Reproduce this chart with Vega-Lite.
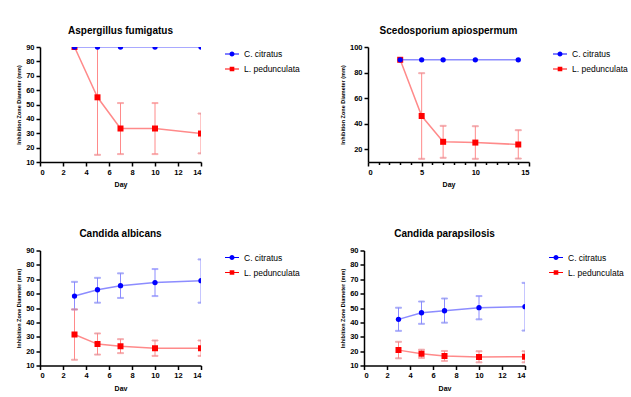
{
  "$schema": "https://vega.github.io/schema/vega-lite/v6.json",
  "padding": {"left": 16, "top": 25, "right": 0, "bottom": 0},
  "background": "white",
  "datasets": {
    "d": [
      {"panel": "A", "series": "L. pedunculata", "day": 3, "mean": 90, "lo": null, "hi": null},
      {"panel": "A", "series": "L. pedunculata", "day": 5, "mean": 55, "lo": 15, "hi": 95},
      {"panel": "A", "series": "L. pedunculata", "day": 7, "mean": 33.3, "lo": 15.5, "hi": 51},
      {"panel": "A", "series": "L. pedunculata", "day": 10, "mean": 33.3, "lo": 15.5, "hi": 51},
      {"panel": "A", "series": "L. pedunculata", "day": 14, "mean": 29.8, "lo": 16, "hi": 43.7},
      {"panel": "A", "series": "C. citratus", "day": 3, "mean": 90, "lo": null, "hi": null},
      {"panel": "A", "series": "C. citratus", "day": 5, "mean": 90, "lo": null, "hi": null},
      {"panel": "A", "series": "C. citratus", "day": 7, "mean": 90, "lo": null, "hi": null},
      {"panel": "A", "series": "C. citratus", "day": 10, "mean": 90, "lo": null, "hi": null},
      {"panel": "A", "series": "C. citratus", "day": 14, "mean": 90, "lo": null, "hi": null},
      {"panel": "S", "series": "L. pedunculata", "day": 3, "mean": 90, "lo": null, "hi": null},
      {"panel": "S", "series": "L. pedunculata", "day": 5, "mean": 46, "lo": 12.5, "hi": 79.5},
      {"panel": "S", "series": "L. pedunculata", "day": 7, "mean": 25.8, "lo": 13.3, "hi": 38.3},
      {"panel": "S", "series": "L. pedunculata", "day": 10, "mean": 25.2, "lo": 12.5, "hi": 38},
      {"panel": "S", "series": "L. pedunculata", "day": 14, "mean": 23.7, "lo": 12.7, "hi": 34.9},
      {"panel": "S", "series": "C. citratus", "day": 3, "mean": 90, "lo": null, "hi": null},
      {"panel": "S", "series": "C. citratus", "day": 5, "mean": 90, "lo": null, "hi": null},
      {"panel": "S", "series": "C. citratus", "day": 7, "mean": 90, "lo": null, "hi": null},
      {"panel": "S", "series": "C. citratus", "day": 10, "mean": 90, "lo": null, "hi": null},
      {"panel": "S", "series": "C. citratus", "day": 14, "mean": 90, "lo": null, "hi": null},
      {"panel": "CA", "series": "L. pedunculata", "day": 3, "mean": 31.6, "lo": 14, "hi": 49},
      {"panel": "CA", "series": "L. pedunculata", "day": 5, "mean": 24.9, "lo": 17.6, "hi": 32.3},
      {"panel": "CA", "series": "L. pedunculata", "day": 7, "mean": 23.4, "lo": 18.6, "hi": 28.3},
      {"panel": "CA", "series": "L. pedunculata", "day": 10, "mean": 22, "lo": 16.7, "hi": 27.4},
      {"panel": "CA", "series": "L. pedunculata", "day": 14, "mean": 22, "lo": 16.7, "hi": 27.4},
      {"panel": "CA", "series": "C. citratus", "day": 3, "mean": 58.3, "lo": 49, "hi": 68.2},
      {"panel": "CA", "series": "C. citratus", "day": 5, "mean": 62.7, "lo": 53.7, "hi": 71},
      {"panel": "CA", "series": "C. citratus", "day": 7, "mean": 65.5, "lo": 57, "hi": 74.1},
      {"panel": "CA", "series": "C. citratus", "day": 10, "mean": 67.7, "lo": 58.3, "hi": 77.1},
      {"panel": "CA", "series": "C. citratus", "day": 14, "mean": 69, "lo": 53.7, "hi": 83.8},
      {"panel": "CP", "series": "L. pedunculata", "day": 3, "mean": 20.7, "lo": 15, "hi": 26.5},
      {"panel": "CP", "series": "L. pedunculata", "day": 5, "mean": 18.2, "lo": 15.3, "hi": 21},
      {"panel": "CP", "series": "L. pedunculata", "day": 7, "mean": 16.6, "lo": 13.2, "hi": 20.1},
      {"panel": "CP", "series": "L. pedunculata", "day": 10, "mean": 16, "lo": 12.2, "hi": 19.9},
      {"panel": "CP", "series": "L. pedunculata", "day": 14, "mean": 16.1, "lo": 12.2, "hi": 19.9},
      {"panel": "CP", "series": "C. citratus", "day": 3, "mean": 42.1, "lo": 34.1, "hi": 50.2},
      {"panel": "CP", "series": "C. citratus", "day": 5, "mean": 46.7, "lo": 39, "hi": 54.5},
      {"panel": "CP", "series": "C. citratus", "day": 7, "mean": 48.1, "lo": 39.8, "hi": 56.6},
      {"panel": "CP", "series": "C. citratus", "day": 10, "mean": 50.2, "lo": 42.1, "hi": 58.3},
      {"panel": "CP", "series": "C. citratus", "day": 14, "mean": 50.9, "lo": 34.3, "hi": 67.5}
    ]
  },
  "vconcat": [
    {
      "spacing": 40,
      "resolve": {"legend": {"fill": "independent", "shape": "independent"}},
      "hconcat": [
        {
          "title": "Aspergillus fumigatus",
          "width": 161, "height": 115,
          "data": {"name": "d"},
          "transform": [{"filter": "datum.panel === 'A'"}],
          "encoding": {
            "x": {"field": "day", "type": "quantitative", "scale": {"domain": [0, 14], "nice": false}, "axis": {"values": [0, 2, 4, 6, 8, 10, 12, 14], "title": "Day"}}
          },
          "layer": [
            {"transform": [{"filter": "datum.lo != null"}], "mark": {"type": "rule", "strokeWidth": 1, "clip": true},
             "encoding": {"y": {"field": "lo", "type": "quantitative", "scale": {"domain": [10, 90], "nice": false}, "axis": {"values": [10, 20, 30, 40, 50, 60, 70, 80, 90], "title": "Inhibition Zone Diameter (mm)"}}, "y2": {"field": "hi"},
              "stroke": {"field": "series", "type": "nominal", "scale": {"domain": ["C. citratus", "L. pedunculata"], "range": ["#8c8cff", "#ff8a8a"]}, "legend": null}}},
            {"transform": [{"filter": "datum.lo != null"}], "mark": {"type": "tick", "orient": "horizontal", "size": 6, "thickness": 1, "clip": true},
             "encoding": {"y": {"field": "lo", "type": "quantitative", "axis": {"values": [10, 20, 30, 40, 50, 60, 70, 80, 90], "title": "Inhibition Zone Diameter (mm)"}}, "stroke": {"field": "series", "type": "nominal", "legend": null}}},
            {"transform": [{"filter": "datum.lo != null"}], "mark": {"type": "tick", "orient": "horizontal", "size": 6, "thickness": 1, "clip": true},
             "encoding": {"y": {"field": "hi", "type": "quantitative", "axis": {"values": [10, 20, 30, 40, 50, 60, 70, 80, 90], "title": "Inhibition Zone Diameter (mm)"}}, "stroke": {"field": "series", "type": "nominal", "legend": null}}},
            {"mark": {"type": "line", "strokeWidth": 1.5, "clip": true},
             "encoding": {"y": {"field": "mean", "type": "quantitative", "axis": {"values": [10, 20, 30, 40, 50, 60, 70, 80, 90], "title": "Inhibition Zone Diameter (mm)"}}, "stroke": {"field": "series", "type": "nominal", "legend": null}}},
            {"transform": [{"filter": "datum.series === 'L. pedunculata'"}], "mark": {"type": "point", "shape": "square", "filled": true, "size": 36, "color": "#ff0000", "opacity": 1, "clip": true},
             "encoding": {"y": {"field": "mean", "type": "quantitative", "axis": {"values": [10, 20, 30, 40, 50, 60, 70, 80, 90], "title": "Inhibition Zone Diameter (mm)"}}}},
            {"transform": [{"filter": "datum.series === 'C. citratus'"}], "mark": {"type": "point", "shape": "circle", "filled": true, "size": 28, "color": "#0000ff", "opacity": 1, "clip": true},
             "encoding": {"y": {"field": "mean", "type": "quantitative", "axis": {"values": [10, 20, 30, 40, 50, 60, 70, 80, 90], "title": "Inhibition Zone Diameter (mm)"}}}},
            {"mark": {"type": "point", "filled": true, "opacity": 0, "clip": true},
             "encoding": {"y": {"field": "mean", "type": "quantitative", "axis": {"values": [10, 20, 30, 40, 50, 60, 70, 80, 90], "title": "Inhibition Zone Diameter (mm)"}},
              "fill": {"field": "series", "type": "nominal", "scale": {"domain": ["C. citratus", "L. pedunculata"], "range": ["#0000ff", "#ff0000"]}, "legend": {"title": null, "symbolOpacity": 1}},
              "shape": {"field": "series", "type": "nominal", "scale": {"domain": ["C. citratus", "L. pedunculata"], "range": ["M-1,-0.06H1V0.06H-1Z M0.36,0A0.36,0.36 0 1,1 -0.36,0A0.36,0.36 0 1,1 0.36,0Z", "M-1,-0.06H1V0.06H-1Z M-0.33,-0.33H0.33V0.33H-0.33Z"]}, "legend": {"title": null, "symbolOpacity": 1}}}}
          ]
        },
        {
          "title": "Scedosporium apiospermum",
          "width": 161, "height": 115,
          "data": {"name": "d"},
          "transform": [{"filter": "datum.panel === 'S'"}],
          "encoding": {
            "x": {"field": "day", "type": "quantitative", "scale": {"domain": [0, 15], "nice": false}, "axis": {"values": [0, 1, 2, 3, 4, 5, 6, 7, 8, 9, 10, 11, 12, 13, 14, 15], "labelExpr": "datum.value % 5 === 0 ? datum.label : ''", "tickSize": {"condition": {"test": "datum.value % 5 === 0", "value": 4}, "value": 2.5}, "title": "Day"}}
          },
          "layer": [
            {"transform": [{"filter": "datum.lo != null"}], "mark": {"type": "rule", "strokeWidth": 1, "clip": true},
             "encoding": {
              "y": {"field": "lo", "type": "quantitative", "scale": {"domain": [10, 100], "nice": false}, "axis": {"values": [20, 40, 60, 80, 100], "title": "Inhibition Zone Diameter (mm)"}}, "y2": {"field": "hi"},
              "stroke": {"field": "series", "type": "nominal", "scale": {"domain": ["C. citratus", "L. pedunculata"], "range": ["#8c8cff", "#ff8a8a"]}, "legend": null}}},
            {"transform": [{"filter": "datum.lo != null"}], "mark": {"type": "tick", "orient": "horizontal", "size": 6, "thickness": 1, "clip": true},
             "encoding": {"y": {"field": "lo", "type": "quantitative", "axis": {"values": [20, 40, 60, 80, 100], "title": "Inhibition Zone Diameter (mm)"}}, "stroke": {"field": "series", "type": "nominal", "legend": null}}},
            {"transform": [{"filter": "datum.lo != null"}], "mark": {"type": "tick", "orient": "horizontal", "size": 6, "thickness": 1, "clip": true},
             "encoding": {"y": {"field": "hi", "type": "quantitative", "axis": {"values": [20, 40, 60, 80, 100], "title": "Inhibition Zone Diameter (mm)"}}, "stroke": {"field": "series", "type": "nominal", "legend": null}}},
            {"mark": {"type": "line", "strokeWidth": 1.5, "clip": true},
             "encoding": {"y": {"field": "mean", "type": "quantitative", "axis": {"values": [20, 40, 60, 80, 100], "title": "Inhibition Zone Diameter (mm)"}}, "stroke": {"field": "series", "type": "nominal", "legend": null}}},
            {"transform": [{"filter": "datum.series === 'L. pedunculata'"}], "mark": {"type": "point", "shape": "square", "filled": true, "size": 36, "color": "#ff0000", "opacity": 1, "clip": true},
             "encoding": {"y": {"field": "mean", "type": "quantitative", "axis": {"values": [20, 40, 60, 80, 100], "title": "Inhibition Zone Diameter (mm)"}}}},
            {"transform": [{"filter": "datum.series === 'C. citratus'"}], "mark": {"type": "point", "shape": "circle", "filled": true, "size": 28, "color": "#0000ff", "opacity": 1, "clip": true},
             "encoding": {"y": {"field": "mean", "type": "quantitative", "axis": {"values": [20, 40, 60, 80, 100], "title": "Inhibition Zone Diameter (mm)"}}}},
            {"mark": {"type": "point", "filled": true, "opacity": 0, "clip": true},
             "encoding": {"y": {"field": "mean", "type": "quantitative", "axis": {"values": [20, 40, 60, 80, 100], "title": "Inhibition Zone Diameter (mm)"}},
              "fill": {"field": "series", "type": "nominal", "scale": {"domain": ["C. citratus", "L. pedunculata"], "range": ["#0000ff", "#ff0000"]}, "legend": {"title": null, "symbolOpacity": 1}},
              "shape": {"field": "series", "type": "nominal", "scale": {"domain": ["C. citratus", "L. pedunculata"], "range": ["M-1,-0.06H1V0.06H-1Z M0.36,0A0.36,0.36 0 1,1 -0.36,0A0.36,0.36 0 1,1 0.36,0Z", "M-1,-0.06H1V0.06H-1Z M-0.33,-0.33H0.33V0.33H-0.33Z"]}, "legend": {"title": null, "symbolOpacity": 1}}}}
          ]
        }
      ]
    },
    {
      "spacing": 40,
      "resolve": {"legend": {"fill": "independent", "shape": "independent"}},
      "hconcat": [
        {
          "title": "Candida albicans",
          "width": 161, "height": 115,
          "data": {"name": "d"},
          "transform": [{"filter": "datum.panel === 'CA'"}],
          "encoding": {
            "x": {"field": "day", "type": "quantitative", "scale": {"domain": [0, 14], "nice": false}, "axis": {"values": [0, 2, 4, 6, 8, 10, 12, 14], "title": "Day"}}
          },
          "layer": [
            {"transform": [{"filter": "datum.lo != null"}], "mark": {"type": "rule", "strokeWidth": 1, "clip": true},
             "encoding": {"y": {"field": "lo", "type": "quantitative", "scale": {"domain": [10, 90], "nice": false}, "axis": {"values": [10, 20, 30, 40, 50, 60, 70, 80, 90], "title": "Inhibition Zone Diameter (mm)"}}, "y2": {"field": "hi"},
              "stroke": {"field": "series", "type": "nominal", "scale": {"domain": ["C. citratus", "L. pedunculata"], "range": ["#8c8cff", "#ff8a8a"]}, "legend": null}}},
            {"transform": [{"filter": "datum.lo != null"}], "mark": {"type": "tick", "orient": "horizontal", "size": 6, "thickness": 1, "clip": true},
             "encoding": {"y": {"field": "lo", "type": "quantitative", "axis": {"values": [10, 20, 30, 40, 50, 60, 70, 80, 90], "title": "Inhibition Zone Diameter (mm)"}}, "stroke": {"field": "series", "type": "nominal", "legend": null}}},
            {"transform": [{"filter": "datum.lo != null"}], "mark": {"type": "tick", "orient": "horizontal", "size": 6, "thickness": 1, "clip": true},
             "encoding": {"y": {"field": "hi", "type": "quantitative", "axis": {"values": [10, 20, 30, 40, 50, 60, 70, 80, 90], "title": "Inhibition Zone Diameter (mm)"}}, "stroke": {"field": "series", "type": "nominal", "legend": null}}},
            {"mark": {"type": "line", "strokeWidth": 1.5, "clip": true},
             "encoding": {"y": {"field": "mean", "type": "quantitative", "axis": {"values": [10, 20, 30, 40, 50, 60, 70, 80, 90], "title": "Inhibition Zone Diameter (mm)"}}, "stroke": {"field": "series", "type": "nominal", "legend": null}}},
            {"transform": [{"filter": "datum.series === 'L. pedunculata'"}], "mark": {"type": "point", "shape": "square", "filled": true, "size": 36, "color": "#ff0000", "opacity": 1, "clip": true},
             "encoding": {"y": {"field": "mean", "type": "quantitative", "axis": {"values": [10, 20, 30, 40, 50, 60, 70, 80, 90], "title": "Inhibition Zone Diameter (mm)"}}}},
            {"transform": [{"filter": "datum.series === 'C. citratus'"}], "mark": {"type": "point", "shape": "circle", "filled": true, "size": 28, "color": "#0000ff", "opacity": 1, "clip": true},
             "encoding": {"y": {"field": "mean", "type": "quantitative", "axis": {"values": [10, 20, 30, 40, 50, 60, 70, 80, 90], "title": "Inhibition Zone Diameter (mm)"}}}},
            {"mark": {"type": "point", "filled": true, "opacity": 0, "clip": true},
             "encoding": {"y": {"field": "mean", "type": "quantitative", "axis": {"values": [10, 20, 30, 40, 50, 60, 70, 80, 90], "title": "Inhibition Zone Diameter (mm)"}},
              "fill": {"field": "series", "type": "nominal", "scale": {"domain": ["C. citratus", "L. pedunculata"], "range": ["#0000ff", "#ff0000"]}, "legend": {"title": null, "symbolOpacity": 1}},
              "shape": {"field": "series", "type": "nominal", "scale": {"domain": ["C. citratus", "L. pedunculata"], "range": ["M-1,-0.06H1V0.06H-1Z M0.36,0A0.36,0.36 0 1,1 -0.36,0A0.36,0.36 0 1,1 0.36,0Z", "M-1,-0.06H1V0.06H-1Z M-0.33,-0.33H0.33V0.33H-0.33Z"]}, "legend": {"title": null, "symbolOpacity": 1}}}}
          ]
        },
        {
          "title": "Candida parapsilosis",
          "width": 161, "height": 115,
          "data": {"name": "d"},
          "transform": [{"filter": "datum.panel === 'CP'"}],
          "encoding": {
            "x": {"field": "day", "type": "quantitative", "scale": {"domain": [0, 14], "nice": false}, "axis": {"values": [0, 2, 4, 6, 8, 10, 12, 14], "title": "Day"}}
          },
          "layer": [
            {"transform": [{"filter": "datum.lo != null"}], "mark": {"type": "rule", "strokeWidth": 1, "clip": true},
             "encoding": {"y": {"field": "lo", "type": "quantitative", "scale": {"domain": [10, 90], "nice": false}, "axis": {"values": [10, 20, 30, 40, 50, 60, 70, 80, 90], "title": "Inhibition Zone Diameter (mm)"}}, "y2": {"field": "hi"},
              "stroke": {"field": "series", "type": "nominal", "scale": {"domain": ["C. citratus", "L. pedunculata"], "range": ["#8c8cff", "#ff8a8a"]}, "legend": null}}},
            {"transform": [{"filter": "datum.lo != null"}], "mark": {"type": "tick", "orient": "horizontal", "size": 6, "thickness": 1, "clip": true},
             "encoding": {"y": {"field": "lo", "type": "quantitative", "axis": {"values": [10, 20, 30, 40, 50, 60, 70, 80, 90], "title": "Inhibition Zone Diameter (mm)"}}, "stroke": {"field": "series", "type": "nominal", "legend": null}}},
            {"transform": [{"filter": "datum.lo != null"}], "mark": {"type": "tick", "orient": "horizontal", "size": 6, "thickness": 1, "clip": true},
             "encoding": {"y": {"field": "hi", "type": "quantitative", "axis": {"values": [10, 20, 30, 40, 50, 60, 70, 80, 90], "title": "Inhibition Zone Diameter (mm)"}}, "stroke": {"field": "series", "type": "nominal", "legend": null}}},
            {"mark": {"type": "line", "strokeWidth": 1.5, "clip": true},
             "encoding": {"y": {"field": "mean", "type": "quantitative", "axis": {"values": [10, 20, 30, 40, 50, 60, 70, 80, 90], "title": "Inhibition Zone Diameter (mm)"}}, "stroke": {"field": "series", "type": "nominal", "legend": null}}},
            {"transform": [{"filter": "datum.series === 'L. pedunculata'"}], "mark": {"type": "point", "shape": "square", "filled": true, "size": 36, "color": "#ff0000", "opacity": 1, "clip": true},
             "encoding": {"y": {"field": "mean", "type": "quantitative", "axis": {"values": [10, 20, 30, 40, 50, 60, 70, 80, 90], "title": "Inhibition Zone Diameter (mm)"}}}},
            {"transform": [{"filter": "datum.series === 'C. citratus'"}], "mark": {"type": "point", "shape": "circle", "filled": true, "size": 28, "color": "#0000ff", "opacity": 1, "clip": true},
             "encoding": {"y": {"field": "mean", "type": "quantitative", "axis": {"values": [10, 20, 30, 40, 50, 60, 70, 80, 90], "title": "Inhibition Zone Diameter (mm)"}}}},
            {"mark": {"type": "point", "filled": true, "opacity": 0, "clip": true},
             "encoding": {"y": {"field": "mean", "type": "quantitative", "axis": {"values": [10, 20, 30, 40, 50, 60, 70, 80, 90], "title": "Inhibition Zone Diameter (mm)"}},
              "fill": {"field": "series", "type": "nominal", "scale": {"domain": ["C. citratus", "L. pedunculata"], "range": ["#0000ff", "#ff0000"]}, "legend": {"title": null, "symbolOpacity": 1}},
              "shape": {"field": "series", "type": "nominal", "scale": {"domain": ["C. citratus", "L. pedunculata"], "range": ["M-1,-0.06H1V0.06H-1Z M0.36,0A0.36,0.36 0 1,1 -0.36,0A0.36,0.36 0 1,1 0.36,0Z", "M-1,-0.06H1V0.06H-1Z M-0.33,-0.33H0.33V0.33H-0.33Z"]}, "legend": {"title": null, "symbolOpacity": 1}}}}
          ]
        }
      ]
    }
  ],
  "spacing": 40.5,
  "resolve": {"scale": {"x": "independent", "y": "independent"}},
  "config": {
    "font": "Liberation Sans",
    "view": {"stroke": null},
    "axis": {"grid": false, "labelOverlap": false, "domainColor": "#000", "domainWidth": 1.5, "tickColor": "#000", "tickWidth": 1.5, "tickSize": 4, "labelFont": "Liberation Sans", "labelFontWeight": "bold", "labelFontSize": 7.5, "labelColor": "#000", "labelPadding": 2, "titleFont": "Liberation Sans", "titleFontWeight": "bold", "titleColor": "#000"},
    "axisY": {"titleFontSize": 5.5, "titlePadding": 4},
    "axisX": {"titleFontSize": 7, "titlePadding": 5},
    "legend": {"labelFont": "Liberation Sans", "labelFontSize": 8.5, "labelColor": "#000", "symbolSize": 196, "symbolStrokeWidth": 0, "rowPadding": 3, "offset": 24, "labelOffset": 5},
    "title": {"font": "Liberation Sans", "fontSize": 10, "fontWeight": "bold", "color": "#000", "offset": 7.5, "anchor": "middle"}
  }
}
